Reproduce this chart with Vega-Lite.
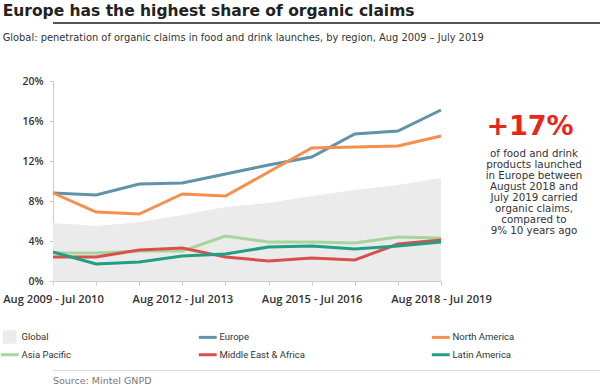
{
  "$schema": "https://vega.github.io/schema/vega-lite/v6.json",
  "background": "white",
  "padding": {"left": 2, "top": 3, "right": 0, "bottom": 0},
  "title": {"text": "Europe has the highest share of organic claims", "anchor": "start", "frame": "bounds", "font": "DejaVu Sans", "fontSize": 15.5, "fontWeight": "bold", "color": "#222222", "offset": 3},
  "datasets": {
    "series": [
      {"period": "Aug 2009 - Jul 2010", "Global": 5.8, "Europe": 8.8, "North America": 8.8, "Asia Pacific": 2.8, "Middle East & Africa": 2.4, "Latin America": 2.9},
      {"period": "Aug 2010 - Jul 2011", "Global": 5.5, "Europe": 8.6, "North America": 6.9, "Asia Pacific": 2.8, "Middle East & Africa": 2.4, "Latin America": 1.7},
      {"period": "Aug 2011 - Jul 2012", "Global": 5.9, "Europe": 9.7, "North America": 6.7, "Asia Pacific": 3.0, "Middle East & Africa": 3.1, "Latin America": 1.9},
      {"period": "Aug 2012 - Jul 2013", "Global": 6.6, "Europe": 9.8, "North America": 8.7, "Asia Pacific": 3.0, "Middle East & Africa": 3.3, "Latin America": 2.5},
      {"period": "Aug 2013 - Jul 2014", "Global": 7.4, "Europe": 10.7, "North America": 8.5, "Asia Pacific": 4.5, "Middle East & Africa": 2.4, "Latin America": 2.7},
      {"period": "Aug 2014 - Jul 2015", "Global": 7.8, "Europe": 11.6, "North America": 10.9, "Asia Pacific": 3.9, "Middle East & Africa": 2.0, "Latin America": 3.4},
      {"period": "Aug 2015 - Jul 2016", "Global": 8.5, "Europe": 12.4, "North America": 13.3, "Asia Pacific": 3.9, "Middle East & Africa": 2.3, "Latin America": 3.5},
      {"period": "Aug 2016 - Jul 2017", "Global": 9.1, "Europe": 14.7, "North America": 13.4, "Asia Pacific": 3.8, "Middle East & Africa": 2.1, "Latin America": 3.2},
      {"period": "Aug 2017 - Jul 2018", "Global": 9.6, "Europe": 15.0, "North America": 13.5, "Asia Pacific": 4.4, "Middle East & Africa": 3.7, "Latin America": 3.5},
      {"period": "Aug 2018 - Jul 2019", "Global": 10.3, "Europe": 17.1, "North America": 14.5, "Asia Pacific": 4.3, "Middle East & Africa": 4.1, "Latin America": 3.9}
    ],
    "note": [
      {"part": "headline", "text": "+17%"},
      {"part": "body", "text": "of food and drink\nproducts launched\nin Europe between\nAugust 2018 and\nJuly 2019 carried\norganic claims,\ncompared to\n9% 10 years ago"}
    ]
  },
  "spacing": 9,
  "resolve": {"scale": {"color": "independent"}, "legend": {"color": "independent"}},
  "vconcat": [
    {
      "width": 594, "height": 2,
      "view": {"stroke": null, "fill": "#555555"},
      "data": {"values": []},
      "mark": "text",
      "encoding": {}
    },
    {
      "title": {"text": "Global: penetration of organic claims in food and drink launches, by region, Aug 2009 – July 2019", "anchor": "start", "frame": "bounds", "font": "DejaVu Sans", "fontSize": 9.9, "fontWeight": "normal", "color": "#333333", "offset": 33},
      "resolve": {"scale": {"color": "independent"}, "legend": {"color": "independent"}},
      "vconcat": [
        {
          "spacing": 21,
          "bounds": "flush",
          "resolve": {"scale": {"color": "independent"}, "legend": {"color": "independent"}},
          "hconcat": [
            {
              "width": 388, "height": 200,
              "data": {"name": "series"},
              "transform": [{"fold": ["Global", "Europe", "North America", "Asia Pacific", "Middle East & Africa", "Latin America"], "as": ["region", "value"]}],
              "encoding": {
                "x": {"field": "period", "type": "ordinal", "sort": null, "scale": {"type": "point", "padding": 0},
                  "axis": {"title": null, "labelAngle": 0, "labelExpr": "indexof(['Aug 2009 - Jul 2010','Aug 2012 - Jul 2013','Aug 2015 - Jul 2016','Aug 2018 - Jul 2019'], datum.value) >= 0 ? datum.label : ''", "domainColor": "#cccccc", "tickColor": "#cccccc", "tickSize": 4, "labelPadding": 8, "labelFont": "Open Sans", "labelFontSize": 11.2, "labelFontWeight": 600, "labelColor": "#333333", "labelOverlap": false, "labelBound": false, "labelFlush": false}},
                "y": {"field": "value", "type": "quantitative", "scale": {"domain": [0, 20]},
                  "axis": {"title": null, "values": [0, 4, 8, 12, 16, 20], "labelExpr": "datum.value + '%'", "grid": false, "domainColor": "#cccccc", "tickColor": "#cccccc", "tickSize": 4, "labelPadding": 6, "labelFont": "Open Sans", "labelFontSize": 10.5, "labelFontWeight": 600, "labelColor": "#333333"}},
                "color": {"field": "region", "type": "nominal",
                  "scale": {"domain": ["Global", "Europe", "North America", "Asia Pacific", "Middle East & Africa", "Latin America"], "range": ["#ebebeb", "#6193a8", "#f68e4e", "#a7d59c", "#d94f4b", "#229e82"]},
                  "legend": {"title": null, "orient": "none", "direction": "horizontal", "legendX": -48, "legendY": 251, "columns": 3, "columnPadding": 120, "rowPadding": 4, "gridAlign": "each", "padding": 0,
                    "symbolType": "stroke", "symbolSize": 320, "symbolStrokeWidth": 3,
                    "labelFont": "Roboto", "labelFontSize": 9.5, "labelColor": "#333333", "labelOffset": 7,
                    "encode": {"symbols": {"update": {
                      "shape": {"signal": "datum.value === 'Global' ? 'square' : 'stroke'"},
                      "fill": {"signal": "datum.value === 'Global' ? '#c8c8c8' : 'transparent'"},
                      "stroke": {"signal": "datum.value === 'Europe' ? '#6193a8' : datum.value === 'North America' ? '#f68e4e' : datum.value === 'Asia Pacific' ? '#a7d59c' : datum.value === 'Middle East & Africa' ? '#d94f4b' : datum.value === 'Latin America' ? '#229e82' : 'transparent'"},
                      "strokeWidth": {"signal": "datum.value === 'Global' ? 0 : 3"},
                      "size": {"signal": "datum.value === 'Global' ? 180 : 320"},
                      "opacity": {"value": 1}
                    }}}}}
              },
              "layer": [
                {"transform": [{"filter": "datum.region === 'Global'"}], "mark": {"type": "area", "opacity": 1}},
                {"transform": [{"filter": "datum.region !== 'Global'"}], "mark": {"type": "line", "strokeWidth": 3}}
              ]
            },
            {
              "width": 140, "height": 200,
              "data": {"name": "note"},
              "layer": [
                {"transform": [{"filter": "datum.part === 'headline'"}],
                 "mark": {"type": "text", "font": "DejaVu Sans", "fontSize": 27, "fontWeight": "bold", "color": "#e8261c", "align": "center", "baseline": "middle", "dy": -54, "dx": -2},
                 "encoding": {"text": {"field": "text"}}},
                {"transform": [{"filter": "datum.part === 'body'"}],
                 "mark": {"type": "text", "font": "DejaVu Sans", "fontSize": 10.3, "color": "#333333", "align": "center", "baseline": "middle", "lineBreak": "\n", "lineHeight": 11, "dy": -27, "dx": 2},
                 "encoding": {"text": {"field": "text"}}}
              ]
            }
          ]
        }
      ]
    },
    {
      "width": 594, "height": 1,
      "view": {"stroke": null, "fill": "#dddddd"},
      "data": {"values": []},
      "mark": "text",
      "encoding": {},
      "title": {"text": "Source: Mintel GNPD", "orient": "bottom", "anchor": "start", "frame": "group", "font": "DejaVu Sans", "fontSize": 9.5, "fontWeight": "normal", "color": "#777777", "offset": 5}
    }
  ],
  "config": {"view": {"stroke": null}}
}
